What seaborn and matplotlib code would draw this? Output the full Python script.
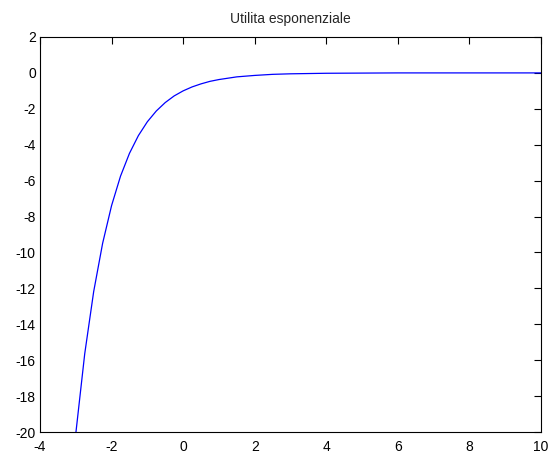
import pandas as pd
import seaborn as sns
import matplotlib
matplotlib.use("Agg")
import matplotlib.pyplot as plt

# points
x_vals = [-3, -2.75, -2.5, -2.25, -2, -1.75, -1.5, -1.25, -1, -0.75, -0.5, -0.25,
          0, 0.25, 0.5, 0.75, 1, 1.5, 2, 2.5, 3, 4, 6, 8, 10]
u_vals = [-20.09, -15.64, -12.18, -9.49, -7.39, -5.75, -4.48, -3.49, -2.72, -2.12, -1.65, -1.28,
          -1.0, -0.78, -0.61, -0.47, -0.37, -0.22, -0.14, -0.08, -0.05, -0.02, 0.0, 0.0, 0.0]
x_ticks = [-4, -2, 0, 2, 4, 6, 8, 10]
y_ticks = [2, 0, -2, -4, -6, -8, -10, -12, -14, -16, -18, -20]


def plot_utility(df):
    fig = plt.figure(figsize=(5.5, 4.57), dpi=100)
    ax = fig.add_axes([40 / 550, 25 / 457, 501 / 550, 395 / 457])
    sns.lineplot(data=df, x="x", y="u", ax=ax, color="#0000ff",
                 linewidth=0.9, sort=False)
    ax.set_xlim(-4, 10)
    ax.set_ylim(-20, 2)
    ax.set_xticks(x_ticks)
    ax.set_yticks(y_ticks)
    ax.tick_params(direction="in", length=5, width=0.8, top=True, right=True,
                   labelsize=10, pad=3, colors="black")
    ax.tick_params(axis="x", pad=6)
    for s in ax.spines.values():
        s.set_visible(True)
        s.set_linewidth(0.8)
        s.set_color("black")
    ax.set_xlabel("")
    ax.set_ylabel("")
    ax.set_title("Utilita esponenziale", fontsize=10, pad=10)
    fig.savefig("out.png", dpi=100)


def main():
    sns.set_style("white")
    plt.rcParams["font.family"] = ["Liberation Sans", "DejaVu Sans"]
    plt.rcParams["axes.unicode_minus"] = False
    df = pd.DataFrame({"x": x_vals, "u": u_vals})
    plot_utility(df)


if __name__ == "__main__":
    main()
